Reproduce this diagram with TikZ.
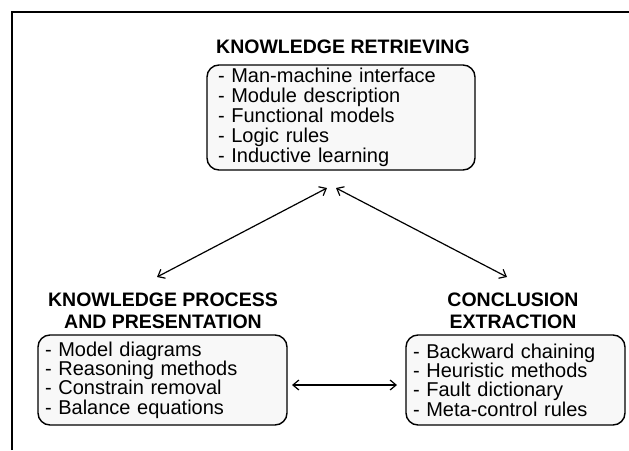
\documentclass[tikz,border=0pt]{standalone}
\usepackage{fontspec}
\setmainfont{Liberation Sans}
\usetikzlibrary{arrows.meta}
\definecolor{boxfill}{RGB}{248,248,248}
\tikzset{
  listbox/.style={draw=black, line width=1.4pt, fill=boxfill, rounded corners=12pt,
    align=left, inner xsep=0pt, inner ysep=0pt,
    font=\fontsize{20}{19.3}\selectfont},
  titlebox/.style={align=center, inner sep=0pt,
    font=\fontsize{19.5}{22}\selectfont\bfseries},
  link/.style={line width=1.2pt, {Straight Barb[length=6pt,width=10pt]}-{Straight Barb[length=6pt,width=10pt]}},
  frameline/.style={line width=1.6pt}
}
\begin{document}
\begin{tikzpicture}[x=1pt,y=-1pt]
\useasboundingbox (0,0) rectangle (629,450);
% frame
\coordinate (fr1) at (12,450);
\coordinate (fr2) at (12,12);
\coordinate (fr3) at (629,12);
\draw[frameline] (fr1) -- (fr2) -- (fr3);

% titles
\node[titlebox] (t1) at (343,47) {KNOWLEDGE RETRIEVING};
\node[titlebox] (t2) at (163,311) {KNOWLEDGE PROCESS\\AND PRESENTATION};
\node[titlebox] (t3) at (513,311) {CONCLUSION\\EXTRACTION};

% boxes
\node[listbox, minimum width=268pt, minimum height=105pt,
      text width=246pt, font=\fontsize{20}{20}\selectfont] (kr) at (341,117.5)
  {- Man-machine interface\\- Module description\\- Functional models\\- Logic rules\\- Inductive learning};
\node[listbox, minimum width=249pt, minimum height=90pt,
      text width=235pt] (kp) at (162.5,380)
  {- Model diagrams\\- Reasoning methods\\- Constrain removal\\- Balance equations};
\node[listbox, minimum width=219pt, minimum height=90pt,
      text width=205pt] (ce) at (515.5,380)
  {- Backward chaining\\- Heuristic methods\\- Fault dictionary\\- Meta-control rules};

% arrow end points
\coordinate (a1) at (327,188);
\coordinate (a2) at (157,277);
\coordinate (b1) at (336,188);
\coordinate (b2) at (507,277);
\coordinate (c1) at (292,385);
\coordinate (c2) at (397,385);

\draw[link] (a1) -- (a2);
\draw[link] (b1) -- (b2);
\draw[link] (c1) -- (c2);
\end{tikzpicture}
\end{document}
